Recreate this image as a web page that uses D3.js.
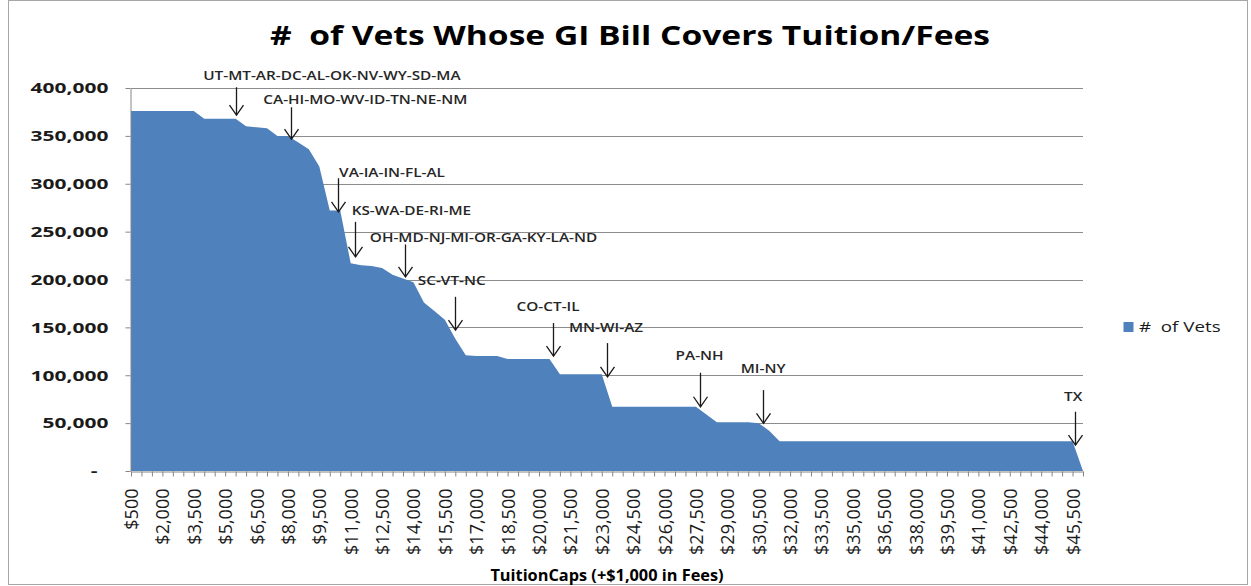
<!DOCTYPE html>
<html>
<head>
<meta charset="utf-8">
<script src="https://cdn.jsdelivr.net/npm/d3@7"></script>
<style>
  html, body { margin: 0; padding: 0; background: #fff; }
  svg { display: block; }
</style>
</head>
<body>
<svg id="chart" width="1251" height="586"></svg>
<script>
// ---------------- DATA ----------------
const tuitionCaps = [500,1000,1500,2000,2500,3000,3500,4000,4500,5000,5500,6000,6500,7000,7500,8000,8500,9000,9500,10000,
  10500,11000,11500,12000,12500,13000,13500,14000,14500,15000,15500,16000,16500,17000,17500,18000,18500,19000,19500,20000,
  20500,21000,21500,22000,22500,23000,23500,24000,24500,25000,25500,26000,26500,27000,27500,28000,28500,29000,29500,30000,
  30500,31000,31500,32000,32500,33000,33500,34000,34500,35000,35500,36000,36500,37000,37500,38000,38500,39000,39500,40000,
  40500,41000,41500,42000,42500,43000,43500,44000,44500,45000,45500,46000];

const numVets = [376000,376000,376000,376000,376000,376000,376000,
  368000,368000,368000,368000,
  360000,359000,358000,
  350000,350000,
  343000,336000,318000,
  272000,272000,
  217000,215000,214000,212000,
  205000,201000,197000,
  176000,167000,158000,138000,
  121000,120000,120000,120000,
  117000,117000,117000,117000,117000,
  101000,101000,101000,101000,101000,
  67000,67000,67000,67000,67000,67000,67000,67000,67000,
  59000,
  51000,51000,51000,51000,50000,
  42000,
  31000,31000,31000,31000,31000,31000,31000,31000,31000,31000,
  31000,31000,31000,31000,31000,31000,31000,31000,31000,31000,
  31000,31000,31000,31000,31000,31000,31000,31000,31000,
  0];

const yTicks = [0,50000,100000,150000,200000,250000,300000,350000,400000];

const annLabels = ["UT-MT-AR-DC-AL-OK-NV-WY-SD-MA","CA-HI-MO-WV-ID-TN-NE-NM","VA-IA-IN-FL-AL","KS-WA-DE-RI-ME",
  "OH-MD-NJ-MI-OR-GA-KY-LA-ND","SC-VT-NC","CO-CT-IL","MN-WI-AZ","PA-NH","MI-NY","TX"];
const annIndex      = [10.04,15.3,19.74,21.37,26.2,30.93,40.37,45.48,54.4,60.39,90.25];
const annTip        = [371600,346500,270700,223700,202800,147200,120000,98400,67100,49800,27100];
const annTop        = [400800,379900,305800,260200,236600,181900,154500,133600,102600,84500,61900];
const annLabelIndex = [19.2,22.4,24.95,26.8,33.7,30.66,39.87,45.41,54.35,60.42,90.06];
const annLabelValue = [413300,388300,312100,272400,243500,198600,171500,149600,121100,107200,77600];

const titleText = "#  of Vets Whose GI Bill Covers Tuition/Fees";
const xTitle = "TuitionCaps (+$1,000 in Fees)";
const seriesName = "#  of Vets";

// ---------------- LAYOUT ----------------
const svg = d3.select("#chart");
const pL = 131, pR = 1083, pT = 88, pB = 471;
const FONT = "'Open Sans', 'Liberation Sans', sans-serif";
const AREA_COLOR = "#4F81BD";

const x = d3.scalePoint().domain(tuitionCaps).range([pL, pR]);
const xi = d3.scaleLinear().domain([0, tuitionCaps.length - 1]).range([pL, pR]);
const y = d3.scaleLinear().domain([0, 400000]).range([pB, pT]);

// horizontal stretch helper keeping anchor x fixed
function hs(sel, kx) {
  sel.attr("transform", function() {
    const ax = +this.getAttribute("x") || 0;
    return `translate(${ax * (1 - kx)},0) scale(${kx},1)`;
  });
}

svg.append("rect").attr("width", 1251).attr("height", 586).attr("fill", "#fff");
svg.append("rect").attr("x", 8.5).attr("y", 0.5).attr("width", 1239).attr("height", 584)
  .attr("fill", "none").attr("stroke", "#a6a6a6");

// gridlines
svg.append("g").selectAll("line").data(yTicks.filter(d => d > 0)).join("line")
  .attr("x1", pL).attr("x2", pR)
  .attr("y1", d => Math.round(y(d)) + 0.5).attr("y2", d => Math.round(y(d)) + 0.5)
  .attr("stroke", "#8c8c8c").attr("stroke-width", 1);

// area
const area = d3.area()
  .x((d, i) => x(tuitionCaps[i]))
  .y0(y(0))
  .y1(d => y(d));
svg.append("path").datum(numVets).attr("d", area).attr("fill", AREA_COLOR);

// y axis
const fmt = d3.format(",");
const yAxis = svg.append("g").attr("transform", `translate(${pL - 0.5},0)`)
  .call(d3.axisLeft(y).tickValues(yTicks).tickSize(5).tickSizeOuter(0).tickPadding(17)
    .tickFormat(d => d === 0 ? "-" : fmt(d)));
yAxis.select(".domain").attr("stroke", "#868686");
yAxis.selectAll(".tick line").attr("stroke", "#868686");
yAxis.selectAll(".tick text")
  .attr("font-family", FONT).attr("font-weight", 700).attr("font-size", 15).attr("fill", "#1a1a1a")
  .attr("x", d => d === 0 ? -33 : -22)
  .call(hs, 1.4);

// x axis
const xAxis = svg.append("g").attr("transform", `translate(0,${pB + 0.5})`)
  .call(d3.axisBottom(x).tickSize(5).tickSizeOuter(0)
    .tickFormat((d, i) => i % 3 === 0 ? "$" + fmt(d) : ""));
xAxis.select(".domain").attr("stroke", "#868686");
xAxis.selectAll(".tick line").attr("stroke", "#868686");
xAxis.selectAll(".tick text")
  .attr("font-family", FONT).attr("font-size", 18).attr("fill", "#1a1a1a")
  .attr("text-anchor", "end")
  .attr("transform", "rotate(-90)")
  .attr("x", -17).attr("y", 0).attr("dy", "0.36em");

// annotations
const ann = svg.append("g");
annLabels.forEach((lab, k) => {
  const ax = Math.round(xi(annIndex[k])) + 0.5;
  const yt = y(annTip[k]), y0 = y(annTop[k]);
  ann.append("line").attr("x1", ax).attr("x2", ax).attr("y1", y0).attr("y2", yt)
    .attr("stroke", "#1a1a1a").attr("stroke-width", 1.3);
  ann.append("path")
    .attr("d", `M${ax - 7},${yt - 10}L${ax},${yt}L${ax + 7},${yt - 10}`)
    .attr("fill", "none").attr("stroke", "#1a1a1a").attr("stroke-width", 1.3);
  ann.append("text")
    .attr("x", xi(annLabelIndex[k])).attr("y", y(annLabelValue[k]))
    .attr("dy", "0.35em").attr("text-anchor", "middle")
    .attr("font-family", FONT).attr("font-size", 13).attr("font-weight", 600).attr("fill", "#262626")
    .text(lab)
    .call(hs, 1.18);
});

// title
svg.append("text").attr("x", 630).attr("y", 45).attr("text-anchor", "middle")
  .attr("font-family", FONT).attr("font-weight", 700).attr("font-size", 27).attr("fill", "#000")
  .attr("xml:space", "preserve").style("white-space", "pre")
  .attr("textLength", 720).attr("lengthAdjust", "spacingAndGlyphs")
  .text(titleText);

// x axis title
svg.append("text").attr("x", 607).attr("y", 581).attr("text-anchor", "middle")
  .attr("font-family", FONT).attr("font-weight", 700).attr("font-size", 16).attr("fill", "#000")
  .text(xTitle).call(hs, 1.02);

// legend
svg.append("rect").attr("x", 1123.5).attr("y", 322).attr("width", 10).attr("height", 10).attr("fill", AREA_COLOR);
svg.append("text").attr("x", 1139).attr("y", 327).attr("dy", "0.35em")
  .attr("font-family", FONT).attr("font-size", 15).attr("fill", "#1a1a1a")
  .style("white-space", "pre")
  .text(seriesName).call(hs, 1.25);
</script>
</body>
</html>
